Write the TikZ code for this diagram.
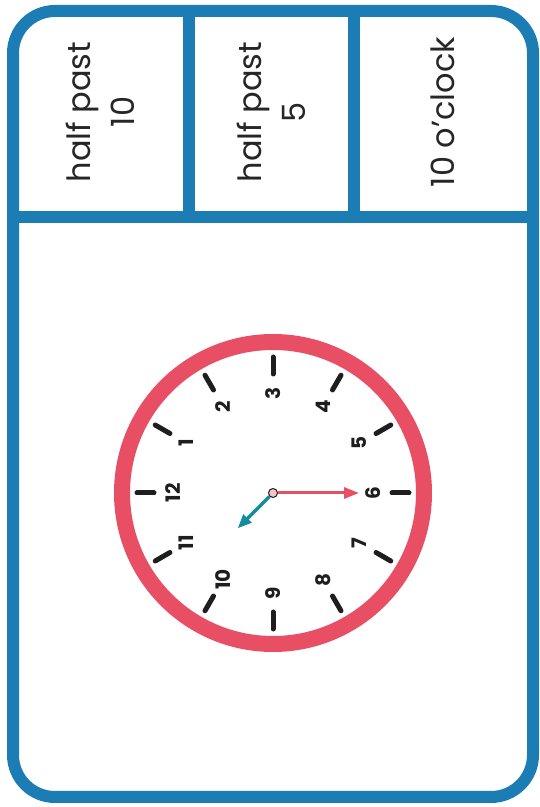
\documentclass[tikz,border=0pt]{standalone}
\usepackage{fontspec}
\setmainfont{Poppins}
\usepackage{tikz}
\usetikzlibrary{arrows.meta}
\definecolor{cardblue}{RGB}{27,125,180}
\definecolor{clockred}{RGB}{232,78,100}
\definecolor{handteal}{RGB}{18,140,158}
\definecolor{inkgray}{RGB}{30,30,30}
\tikzset{
  cardframe/.style={draw=cardblue, line width=12pt, rounded corners=42pt},
  divider/.style={draw=cardblue, line width=12pt},
  cell/.style={rotate=90, align=center, font=\fontsize{32}{44}\selectfont, text=black!85},
  clockring/.style={draw=clockred, line width=16pt},
  hourtick/.style={draw=inkgray, line width=5pt, line cap=round},
  numeral/.style={rotate=90, font=\fontsize{20}{20}\selectfont\bfseries, text=inkgray, inner sep=0pt},
  minhand/.style={-{Triangle[length=15pt, width=11pt]}, draw=clockred, fill=clockred, line width=3pt},
  hourhand/.style={-{Triangle[length=14pt, width=11pt]}, draw=handteal, fill=handteal, line width=3.5pt},
  pivot/.style={circle, draw=inkgray, fill=clockred!35, line width=1pt, minimum size=9pt, inner sep=0pt}
}
\begin{document}
\begin{tikzpicture}[x=1pt, y=1pt]
\useasboundingbox (0,0) rectangle (540,807);
% card and answer cells
\draw[cardframe] (13,10) rectangle (533,796);
\coordinate (hl) at (13,590); \coordinate (hr) at (533,590);
\coordinate (va) at (188.5,590); \coordinate (vat) at (188.5,796);
\coordinate (vb) at (354,590); \coordinate (vbt) at (354,796);
\draw[divider] (hl) -- (hr);
\draw[divider] (va) -- (vat); \draw[divider] (vb) -- (vbt);
\node[cell] (c1) at (100,695) {half past\\10};
\node[cell] (c2) at (271,695) {half past\\5};
\node[cell] (c3) at (443,695) {10 o'clock};
% clock face
\begin{scope}[shift={(273,314)}]
\draw[clockring] (0,0) circle[radius=151pt];
\foreach \h in {1,...,12}
  \draw[hourtick] (180-30*\h:119pt) -- (180-30*\h:136pt);
\node[numeral] (n12) at (180:100pt) {12};
\node[numeral] (n1) at (150:100pt) {1};
\node[numeral] (n2) at (120:100pt) {2};
\node[numeral] (n3) at (90:100pt) {3};
\node[numeral] (n4) at (60:100pt) {4};
\node[numeral] (n5) at (30:100pt) {5};
\node[numeral] (n6) at (0:100pt) {6};
\node[numeral] (n7) at (-30:100pt) {7};
\node[numeral] (n8) at (-60:100pt) {8};
\node[numeral] (n9) at (-90:100pt) {9};
\node[numeral] (n10) at (-120:100pt) {10};
\node[numeral] (n11) at (-150:100pt) {11};
% hands
\node[pivot] (pv) at (0,0) {};
\coordinate (mintip) at (0:86pt);
\coordinate (hourtip) at (225:50pt);
\draw[minhand] (pv) -- (mintip);
\draw[hourhand] (pv) -- (hourtip);
\end{scope}
\end{tikzpicture}
\end{document}
